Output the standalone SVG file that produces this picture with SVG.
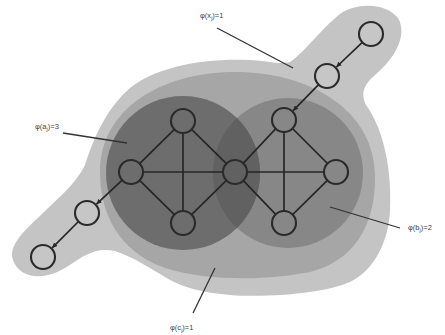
<svg xmlns="http://www.w3.org/2000/svg" width="445" height="335" viewBox="0 0 445 335">
  <style>
    .lbl { font-family: "Liberation Sans", Arial, sans-serif; font-size: 7.5px; fill: #444; }
    .sub { font-size: 5.5px; }
    .edge { stroke: #262626; stroke-width: 1.7; fill: none; }
    .leader { stroke: #333; stroke-width: 1.3; fill: none; }
    .node { stroke: #2a2a2a; stroke-width: 2.1; fill: none; }
    .node.light { fill: #c6c6c6; }
  </style>
  <defs>
    <marker id="arrow" viewBox="0 0 8 8" refX="8" refY="4" markerWidth="5" markerHeight="5" orient="auto" markerUnits="userSpaceOnUse">
      <path d="M0,0 L8,4 L0,8 Z" fill="#262626"/>
    </marker>
    <clipPath id="rightDisk">
      <circle cx="288" cy="173" r="75"/>
    </clipPath>
  </defs>

  <rect width="445" height="335" fill="#ffffff"/>

  <!-- regions -->
  <g id="regions">
    <path id="region-c-outer" fill="#c4c4c4" d="M 290,62 C 305,52 322,28 340,14 C 355,3 385,2 398,18 C 408,35 395,58 375,75 C 365,84 360,92 366,105 C 384,130 392,170 390,210 C 389,240 375,270 350,282 C 325,293 270,298 230,295 C 205,293 185,288 170,280 C 150,268 135,258 115,251 C 95,247 85,255 65,268 C 45,280 20,280 13,260 C 8,245 25,230 43,213 C 58,198 75,185 85,165 C 93,140 105,110 130,88 C 155,68 200,58 250,60 C 268,61 280,65 290,62 Z"/>
    <path id="region-c-inner" fill="#a6a6a6" d="M 100,172 C 100,110 160,72 235,72 C 310,72 374,110 375,175 C 376,230 350,262 310,272 C 270,280 210,282 165,268 C 120,252 100,215 100,172 Z"/>
    <circle id="region-b" cx="288" cy="173" r="75" fill="#878787"/>
    <circle id="region-a" cx="183" cy="173" r="77" fill="#6d6d6d"/>
    <circle id="region-ab" cx="183" cy="173" r="77" fill="#616161" clip-path="url(#rightDisk)"/>
  </g>

  <!-- connectors -->
  <g id="connectors">
    <line class="edge" x1="174.4" y1="129.4" x2="139.6" y2="163.6"/>
    <line class="edge" x1="183" y1="133" x2="183" y2="211"/>
    <line class="edge" x1="191.6" y1="129.4" x2="226.4" y2="163.6"/>
    <line class="edge" x1="143" y1="172" x2="223" y2="172"/>
    <line class="edge" x1="139.6" y1="180.4" x2="174.4" y2="214.6"/>
    <line class="edge" x1="191.6" y1="214.6" x2="226.4" y2="180.4"/>
    <line class="edge" x1="243.2" y1="163.3" x2="275.8" y2="128.7"/>
    <line class="edge" x1="247" y1="172" x2="324" y2="172"/>
    <line class="edge" x1="243.3" y1="180.7" x2="275.7" y2="214.3"/>
    <line class="edge" x1="292.5" y1="128.5" x2="327.5" y2="163.5"/>
    <line class="edge" x1="284" y1="132" x2="284" y2="211"/>
    <line class="edge" x1="327.4" y1="180.4" x2="292.6" y2="214.6"/>
    <line class="edge" x1="362.3" y1="42.3" x2="336.4" y2="67.0" marker-end="url(#arrow)"/>
    <line class="edge" x1="318.6" y1="84.6" x2="293.1" y2="110.7" marker-end="url(#arrow)"/>
    <line class="edge" x1="122.2" y1="180.2" x2="96.5" y2="204.1" marker-end="url(#arrow)"/>
    <line class="edge" x1="78.5" y1="221.5" x2="52.2" y2="247.8" marker-end="url(#arrow)"/>
  </g>

  <!-- nodes -->
  <g id="node-a1"><circle class="node" cx="183" cy="121" r="12"/></g>
  <g id="node-a2"><circle class="node" cx="131" cy="172" r="12"/></g>
  <g id="node-a3"><circle class="node" cx="183" cy="223" r="12"/></g>
  <g id="node-c"><circle class="node" cx="235" cy="172" r="12"/></g>
  <g id="node-b1"><circle class="node" cx="284" cy="120" r="12"/></g>
  <g id="node-b2"><circle class="node" cx="336" cy="172" r="12"/></g>
  <g id="node-b3"><circle class="node" cx="284" cy="223" r="12"/></g>
  <g id="node-t1"><circle class="node light" cx="371" cy="34" r="12"/></g>
  <g id="node-t2"><circle class="node light" cx="327" cy="76" r="12"/></g>
  <g id="node-l1"><circle class="node light" cx="87" cy="213" r="12"/></g>
  <g id="node-l2"><circle class="node light" cx="43" cy="257" r="12"/></g>

  <!-- labels with leader lines -->
  <g id="label-x">
    <line class="leader" x1="217" y1="28" x2="293" y2="68"/>
    <text class="lbl" x="200" y="18">φ(x<tspan class="sub" dy="1.5">j</tspan><tspan dy="-1.5">)=1</tspan></text>
  </g>
  <g id="label-a">
    <line class="leader" x1="63" y1="133" x2="127" y2="143"/>
    <text class="lbl" x="35" y="129">φ(a<tspan class="sub" dy="1.5">j</tspan><tspan dy="-1.5">)=3</tspan></text>
  </g>
  <g id="label-b">
    <line class="leader" x1="330" y1="207" x2="400" y2="228"/>
    <text class="lbl" x="408" y="230">φ(b<tspan class="sub" dy="1.5">j</tspan><tspan dy="-1.5">)=2</tspan></text>
  </g>
  <g id="label-c">
    <line class="leader" x1="215" y1="268" x2="193" y2="313"/>
    <text class="lbl" x="170" y="330">φ(c<tspan class="sub" dy="1.5">j</tspan><tspan dy="-1.5">)=1</tspan></text>
  </g>
</svg>
